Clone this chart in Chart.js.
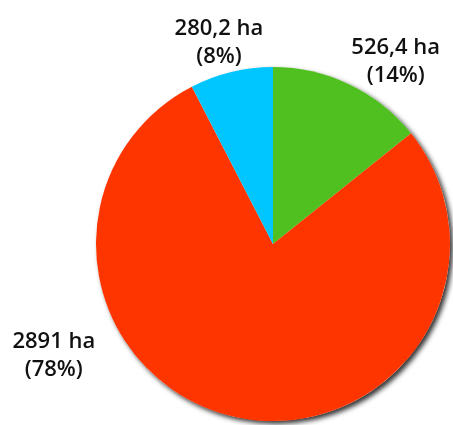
<!DOCTYPE html>
<html lang="en">
<head>
    <meta charset="UTF-8">
    <title>Pie</title>
    <script src="https://cdn.jsdelivr.net/npm/chart.js"></script>
    <style>
        html, body { margin: 0; padding: 0; background: #fff; }
        .chart-container { width: 453px; height: 425px; }
    </style>
</head>
<body>
    <div class="chart-container">
        <canvas id="areaChart"></canvas>
    </div>

    <script>
        const categories = ['Green', 'Red', 'Blue'];
        const areaHa = [526.4, 2891, 280.2];
        const areaText = ['526,4 ha', '2891 ha', '280,2 ha'];
        const percentText = ['(14%)', '(78%)', '(8%)'];
        const colors = ['#50C021', '#FF3500', '#00C6FF'];

        // label placement around the pie (degrees clockwise from top, distance in radii)
        const labelAngle = [34, 243, -15];
        const labelDist = [1.24, 1.39, 1.18];

        const shadowPlugin = {
            id: 'shadow',
            beforeDatasetsDraw(chart) {
                const arc = chart.getDatasetMeta(0).data[0];
                const ctx = chart.ctx;
                ctx.save();
                ctx.shadowColor = 'rgba(0,0,0,0.8)';
                ctx.shadowBlur = 5;
                ctx.shadowOffsetX = 3;
                ctx.shadowOffsetY = 3;
                ctx.fillStyle = '#fff';
                ctx.beginPath();
                ctx.arc(arc.x, arc.y, arc.outerRadius, 0, Math.PI * 2);
                ctx.fill();
                ctx.restore();
            }
        };

        const labelPlugin = {
            id: 'labels',
            afterDatasetsDraw(chart) {
                const ctx = chart.ctx;
                const meta = chart.getDatasetMeta(0);
                ctx.save();
                ctx.font = '600 22px "Open Sans", sans-serif';
                ctx.fillStyle = '#111';
                ctx.textAlign = 'center';
                ctx.textBaseline = 'middle';
                meta.data.forEach((arc, i) => {
                    const a = labelAngle[i] * Math.PI / 180;
                    const r = arc.outerRadius * labelDist[i];
                    const x = arc.x + r * Math.sin(a);
                    const y = arc.y - r * Math.cos(a);
                    ctx.fillText(areaText[i], x, y - 14);
                    ctx.fillText(percentText[i], x, y + 14);
                });
                ctx.restore();
            }
        };

        new Chart(document.getElementById('areaChart'), {
            type: 'pie',
            data: {
                labels: categories,
                datasets: [{
                    data: areaHa,
                    backgroundColor: colors,
                    borderWidth: 0
                }]
            },
            options: {
                responsive: true,
                maintainAspectRatio: false,
                animation: false,
                layout: { padding: { left: 96, right: 3, top: 67, bottom: 4 } },
                plugins: {
                    legend: { display: false },
                    tooltip: { enabled: false }
                }
            },
            plugins: [shadowPlugin, labelPlugin]
        });
    </script>
</body>
</html>
